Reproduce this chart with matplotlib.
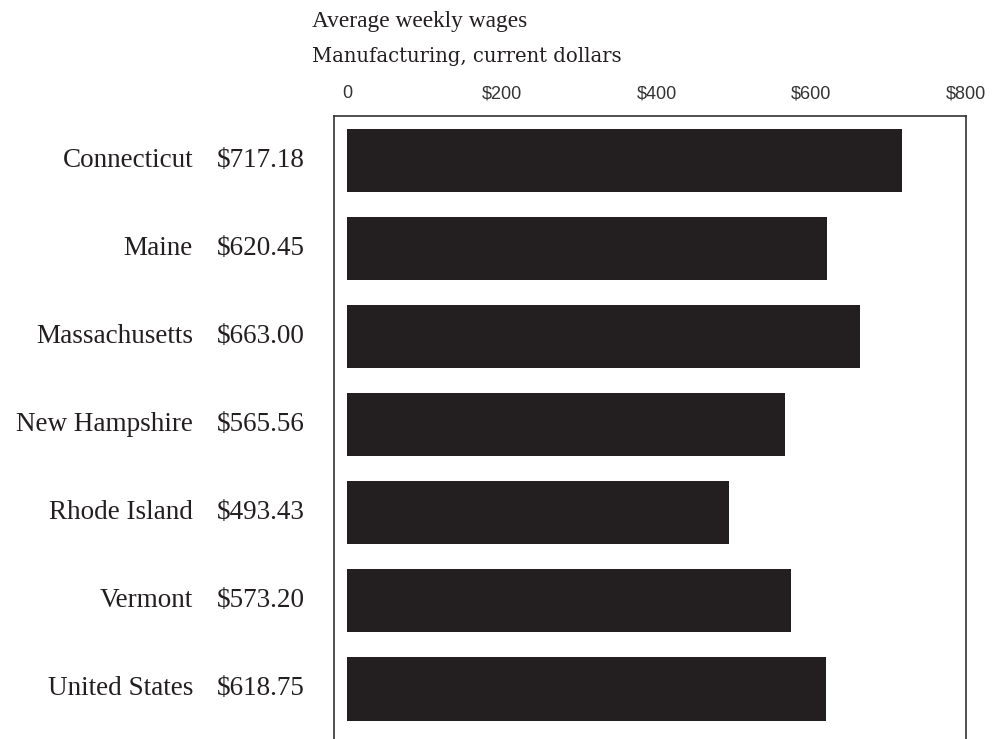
import matplotlib.pyplot as plt
import numpy as np

states = ['Connecticut', 'Maine', 'Massachusetts', 'New Hampshire',
          'Rhode Island', 'Vermont', 'United States']
wages = [717.18, 620.45, 663.00, 565.56, 493.43, 573.20, 618.75]
ticks = [0, 200, 400, 600, 800]
tick_labels = ['0', '$200', '$400', '$600', '$800']

bar_color = '#231f20'
frame_color = '#333333'

fig = plt.figure(figsize=(9.93, 7.39), dpi=100)
ax = fig.add_axes([334/993, 0.0, 632/993, 1 - 116/739])

y = np.arange(len(states))
ax.barh(y, wages, height=0.72, color=bar_color, left=0)
ax.set_xlim(-17, 800)
ax.set_ylim(len(states) - 1 + 0.57, -0.506)

# ticks on top, no marks
ax.xaxis.tick_top()
ax.set_xticks(ticks)
ax.set_xticklabels(tick_labels, family='Liberation Sans', fontsize=13, color='#333333')
ax.tick_params(axis='x', length=0, pad=10)
ax.set_yticks([])

for side in ['left', 'right', 'top']:
    ax.spines[side].set_color(frame_color)
    ax.spines[side].set_linewidth(1.2)
ax.spines['bottom'].set_visible(False)

# state names and values to the left of the frame
for i, (name, w) in enumerate(zip(states, wages)):
    ax.text((193 - 334) / 632, i, name, transform=ax.get_yaxis_transform(),
            ha='right', va='center', family='Liberation Serif', fontsize=19.5,
            color='#231f20')
    ax.text((217 - 334) / 632, i, '${:.2f}'.format(w), transform=ax.get_yaxis_transform(),
            ha='left', va='center', family='Liberation Serif', fontsize=19.5,
            color='#231f20')

fig.text(312/993, 1 - 21/739, 'Average weekly wages', family='Liberation Serif',
         fontsize=16.8, ha='left', va='center', color='#231f20')
fig.text(312/993, 1 - 57/739, 'Manufacturing, current dollars', family='DejaVu Serif',
         fontsize=14.1, ha='left', va='center', color='#231f20')

fig.savefig('out.png', dpi=100)
